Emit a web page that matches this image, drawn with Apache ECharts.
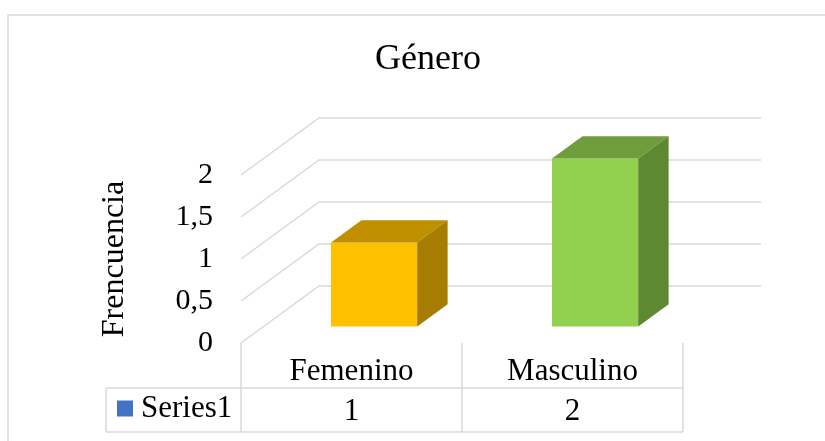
<!DOCTYPE html>
<html>
<head>
<meta charset="utf-8">
<script src="https://cdn.jsdelivr.net/npm/echarts@6/dist/echarts.min.js"></script>
<style>
  html, body { margin: 0; padding: 0; background: #fff; }
  #chart { width: 825px; height: 441px; }
</style>
</head>
<body>
<div id="chart"></div>
<script>
// datos
const categories = ['Femenino', 'Masculino']
const seriesName = 'Series1'
const values = [1, 2]
const yTicks = [0, 0.5, 1, 1.5, 2]

// estilos 3D
const FONT = 'Liberation Serif, Times New Roman, serif'
const DX = 78   // profundidad total (px)
const DY = -57
const F0 = 0.29 // inicio barra en profundidad
const F1 = 0.68 // fin barra
const BAR_W = 0.39 // fraccion del ancho de banda
const faceColors = [
  { front: '#FFC000', top: '#C09000', side: '#A67D00' },
  { front: '#92D050', top: '#6F9C3D', side: '#5E8832' }
]
const gridColor = '#D9D9D9'

const myChart = echarts.init(document.getElementById('chart'))

function renderWall(params, api) {
  const cs = params.coordSys
  const v = api.value(0)
  const p = api.coord([0, v])
  const x0 = cs.x
  const y = p[1]
  return {
    type: 'polyline',
    shape: {
      points: [[x0, y], [x0 + DX, y + DY], [x0 + cs.width + DX, y + DY]]
    },
    style: { stroke: gridColor, lineWidth: 1.5, fill: null },
    silent: true
  }
}

function renderBar(params, api) {
  const i = api.value(0)
  const top = api.coord([i, api.value(1)])
  const bot = api.coord([i, 0])
  const band = api.size([1, 0])[0]
  const w = band * BAR_W
  const ox = F0 * DX
  const oy = F0 * DY
  const bx = (F1 - F0) * DX
  const by = (F1 - F0) * DY
  const xl = top[0] - w / 2 + ox
  const xr = top[0] + w / 2 + ox
  const yt = top[1] + oy
  const yb = bot[1] + oy
  const c = faceColors[i % faceColors.length]
  return {
    type: 'group',
    children: [
      {
        type: 'rect',
        shape: { x: xl, y: yt, width: xr - xl, height: yb - yt },
        style: { fill: c.front }
      },
      {
        type: 'polygon',
        shape: { points: [[xl, yt], [xr, yt], [xr + bx, yt + by], [xl + bx, yt + by]] },
        style: { fill: c.top }
      },
      {
        type: 'polygon',
        shape: { points: [[xr, yt], [xr + bx, yt + by], [xr + bx, yb + by], [xr, yb]] },
        style: { fill: c.side }
      }
    ]
  }
}

myChart.setOption({
  animation: false,
  title: {
    text: 'Género',
    left: 370,
    top: 37,
    textStyle: { fontFamily: FONT, fontSize: 36, fontWeight: 'normal', color: '#000' }
  },
  legend: {
    data: [seriesName],
    left: 117,
    top: 393,
    padding: 0,
    icon: 'rect',
    itemWidth: 16,
    itemHeight: 16,
    textStyle: { fontFamily: FONT, fontSize: 31, color: '#000', padding: [0, 0, 0, 3] }
  },
  grid: { left: 241, right: 142, top: 175, bottom: 98 },
  xAxis: [
    {
      type: 'category',
      data: categories,
      axisLine: { show: false },
      axisTick: { show: true, length: 89, lineStyle: { color: gridColor, width: 1.5 } },
      axisLabel: { margin: 13, fontFamily: FONT, fontSize: 31, color: '#000' }
    },
    {
      type: 'category',
      position: 'bottom',
      data: values.map(String),
      axisLine: { show: false },
      axisTick: { show: false },
      axisLabel: { margin: 53, fontFamily: FONT, fontSize: 31, color: '#000' }
    }
  ],
  yAxis: {
    type: 'value',
    min: 0,
    max: 2,
    interval: 0.5,
    name: 'Frencuencia',
    nameLocation: 'middle',
    nameRotate: 90,
    nameGap: 110,
    nameTextStyle: { fontFamily: FONT, fontSize: 32, color: '#000' },
    axisLine: { show: false },
    axisTick: { show: false },
    splitLine: { show: false },
    axisLabel: {
      margin: 28,
      fontFamily: FONT,
      fontSize: 30,
      color: '#000',
      formatter: function(v) { return String(v).replace('.', ',') }
    }
  },
  series: [
    {
      name: 'wall',
      type: 'custom',
      renderItem: renderWall,
      data: yTicks.map(v => [v]),
      z: 1,
      silent: true
    },
    {
      name: seriesName,
      type: 'custom',
      renderItem: renderBar,
      itemStyle: { color: '#4472C4' },
      encode: { x: 0, y: 1 },
      data: categories.map((c, i) => [i, values[i]]),
      z: 2
    }
  ],
  graphic: [
    {
      type: 'rect',
      shape: { x: 8, y: 15, width: 900, height: 500 },
      style: { fill: null, stroke: gridColor, lineWidth: 1.5 },
      silent: true
    },
    {
      type: 'line',
      shape: { x1: 106, y1: 388, x2: 683, y2: 388 },
      style: { stroke: gridColor, lineWidth: 1.5 },
      silent: true
    },
    {
      type: 'line',
      shape: { x1: 106, y1: 432, x2: 683, y2: 432 },
      style: { stroke: gridColor, lineWidth: 1.5 },
      silent: true
    },
    {
      type: 'line',
      shape: { x1: 106, y1: 388, x2: 106, y2: 432 },
      style: { stroke: gridColor, lineWidth: 1.5 },
      silent: true
    }
  ]
})
window.addEventListener('resize', function() {
  myChart.resize()
})
</script>
</body>
</html>
